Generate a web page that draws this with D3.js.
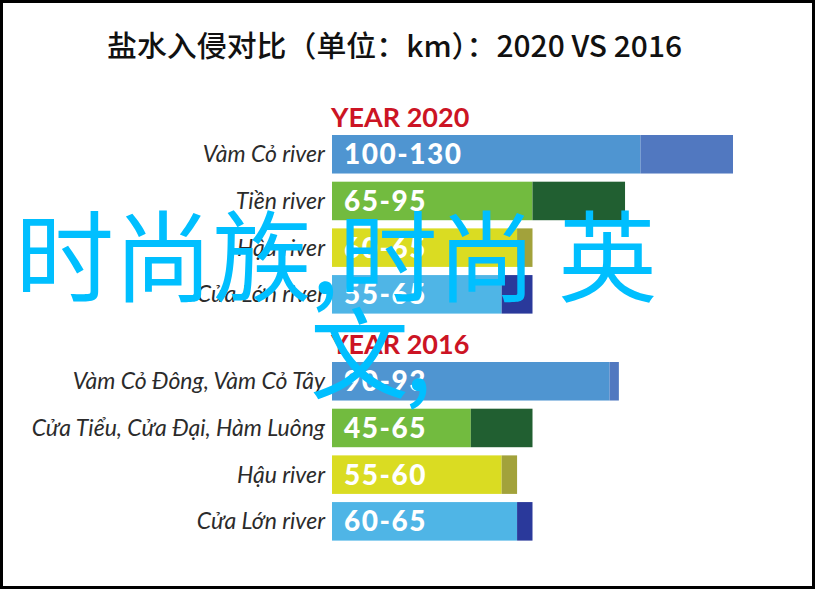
<!DOCTYPE html>
<html><head><meta charset="utf-8">
<script src="https://cdn.jsdelivr.net/npm/d3@7"></script>
<style>body{margin:0;background:#fff}</style>
</head><body><svg id="c" width="815" height="590"></svg>
<script>
const title = "盐水入侵对比（单位：km）：2020 VS 2016";
const groupTitles = ["YEAR 2020", "YEAR 2016"];
const rivers2020 = ["Vàm Cỏ river", "Tiền river", "Hậu river", "Cửa Lớn river"];
const low2020 = [100, 65, 60, 55];
const high2020 = [130, 95, 65, 65];
const rivers2016 = ["Vàm Cỏ Đông, Vàm Cỏ Tây", "Cửa Tiểu, Cửa Đại, Hàm Luông", "Hậu river", "Cửa Lớn river"];
const low2016 = [90, 45, 55, 60];
const high2016 = [93, 65, 60, 65];
const lightColors = ["#4f95d1", "#72bb3f", "#dadc22", "#4fb5e6"];
const darkColors = ["#5178c0", "#215f31", "#a2a23b", "#2a399b"];
const watermarkLines = ["时尚族,时尚 英", "文,"];

const svg = d3.select("#c");
svg.append("rect").attr("width", 815).attr("height", 590).attr("fill", "#fff");

svg.append("text").attr("x", 107).attr("y", 57)
  .attr("font-family", "'Noto Sans CJK SC', sans-serif").attr("font-size", 29).attr("font-weight", 500)
  .attr("textLength", 575).attr("lengthAdjust", "spacingAndGlyphs")
  .attr("fill", "#111").text(title);

const x = d3.scaleLinear().domain([0, 130]).range([332, 733]);

const sections = [
  {title: groupTitles[0], names: rivers2020, low: low2020, high: high2020, top: 135, titleY: 127},
  {title: groupTitles[1], names: rivers2016, low: low2016, high: high2016, top: 362, titleY: 354}
];

sections.forEach(s => {
  const y = d3.scaleBand().domain(s.names).range([s.top, s.top + 46.7 * 3 + 38.5]).paddingInner(0.175).paddingOuter(0);
  const g = svg.append("g");
  g.append("text").attr("x", x(0) - 1).attr("y", s.titleY)
    .attr("font-family", "Lato, sans-serif").attr("font-weight", "bold").attr("font-size", 27)
    .attr("fill", "#cc1424").text(s.title);
  const rows = s.names.map((n, i) => ({name: n, low: s.low[i], high: s.high[i], i}));
  g.selectAll("rect.l").data(rows).join("rect").attr("class", "l")
    .attr("x", x(0)).attr("y", d => y(d.name)).attr("width", d => x(d.low) - x(0))
    .attr("height", y.bandwidth()).attr("fill", d => lightColors[d.i]);
  g.selectAll("rect.d").data(rows).join("rect").attr("class", "d")
    .attr("x", d => x(d.low)).attr("y", d => y(d.name)).attr("width", d => x(d.high) - x(d.low))
    .attr("height", y.bandwidth()).attr("fill", d => darkColors[d.i]);
  g.selectAll("text.v").data(rows).join("text").attr("class", "v")
    .attr("x", x(0) + 12).attr("y", d => y(d.name) + y.bandwidth() / 2 + 10)
    .attr("font-family", "Lato, sans-serif").attr("font-weight", 900).attr("font-size", 28)
    .attr("letter-spacing", 1.5).attr("fill", "#fff").text(d => d.low + "-" + d.high);
  g.selectAll("text.n").data(rows).join("text").attr("class", "n")
    .attr("x", x(0) - 7).attr("y", d => y(d.name) + y.bandwidth() / 2 + 8)
    .attr("text-anchor", "end").attr("font-family", "Lato, sans-serif").attr("font-style", "italic")
    .attr("font-size", 23).attr("fill", "#2b2b2b").text(d => d.name);
});

// frame
svg.append("rect").attr("x", 1.5).attr("y", 1.5).attr("width", 812).attr("height", 586)
  .attr("fill", "none").attr("stroke", "#000").attr("stroke-width", 3);

// watermark overlay
const wm = [{t: watermarkLines[0], x: 15, y: 294, len: 642}, {t: watermarkLines[1], x: 310, y: 391, len: 122}];
svg.selectAll("text.wm").data(wm).join("text").attr("class", "wm")
  .attr("x", d => d.x).attr("y", d => d.y)
  .attr("font-family", "'Noto Sans CJK SC', sans-serif").attr("font-size", 99)
  .attr("textLength", d => d.len).attr("lengthAdjust", "spacing")
  .attr("fill", "#00bfff").text(d => d.t);
</script></body></html>
